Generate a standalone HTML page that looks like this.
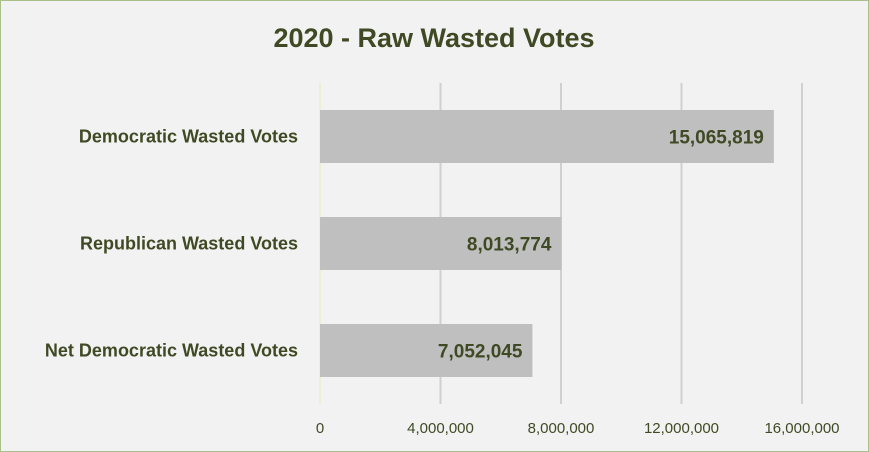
<!DOCTYPE html>
<html><head><meta charset="utf-8"><style>
body{margin:0;background:#fff;}
svg{display:block;font-family:"Liberation Sans",sans-serif;}
</style></head><body>
<svg id="c" width="869" height="452">
<rect x="0.5" y="0.5" width="868" height="451" fill="#f2f2f2" stroke="#a9c08a"/>
<text x="434" y="47" text-anchor="middle" font-size="27" font-weight="bold" fill="#3f4a24">2020 - Raw Wasted Votes</text>
<g id="grid"></g><g id="bars"></g><g id="labels"></g>
</svg>
<script>
const categories=["Democratic Wasted Votes","Republican Wasted Votes","Net Democratic Wasted Votes"];
const values=[15065819,8013774,7052045];
const ticks=[0,4000000,8000000,12000000,16000000];
const tickLabels=["0","4,000,000","8,000,000","12,000,000","16,000,000"];
const NS="http://www.w3.org/2000/svg";
const x0=320,pxPer=120.5/4000000,plotTop=83,plotBottom=404,band=107,barH=53;
const x=v=>x0+v*pxPer;
const yc=i=>plotTop+band*(i+0.5);
function mk(t,a,p){const e=document.createElementNS(NS,t);for(const k in a)e.setAttribute(k,a[k]);p.appendChild(e);return e;}
const g=document.getElementById('grid'),b=document.getElementById('bars'),l=document.getElementById('labels');
ticks.forEach((t,i)=>{
 const ln=mk('line',{x1:x(t),x2:x(t),y1:plotTop,y2:plotBottom,stroke:i==0?'#ebefd5':'#d0d0d0','stroke-width':2},g);
 
 
 const tx=mk('text',{x:x(t),y:433,'text-anchor':'middle','font-size':15,fill:'#3f4a24'},g);
 tx.textContent=tickLabels[i];
 
 
});
categories.forEach((c,i)=>{
 const r=mk('rect',{x:x0,y:yc(i)-barH/2,width:x(values[i])-x0,height:barH,fill:'#bfbfbf'},b);
 
 
 const v=mk('text',{x:x(values[i])-10,y:yc(i)+7,'text-anchor':'end','font-size':19,'font-weight':'bold',fill:'#3f4a24'},l);
 v.textContent=values[i].toLocaleString('en-US');
 
 
 const cl=mk('text',{x:298,y:yc(i)+6,'text-anchor':'end','font-size':18,'font-weight':'bold',fill:'#3f4a24'},l);
 cl.textContent=c;
 
 
});
</script>
</body></html>
